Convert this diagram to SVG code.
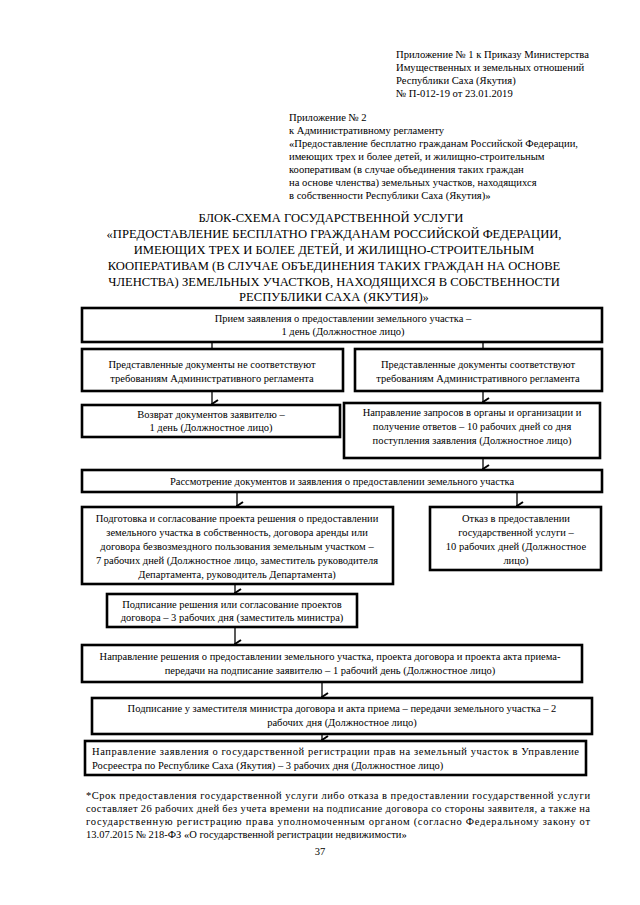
<svg xmlns="http://www.w3.org/2000/svg" width="640" height="905" viewBox="0 0 640 905">
<defs>
<style>
text{font-family:"Liberation Serif","Times New Roman",serif;fill:#000}
.hd{font-size:10.6px}
.ap{font-size:10.6px}
.tt{font-size:12.6px;text-anchor:middle}
.bx{font-size:10.5px;text-anchor:middle}
.bl{font-size:10.5px;text-anchor:start}
.fn{font-size:10.5px}
.pg{font-size:10.5px;text-anchor:middle}
rect.b{fill:#fff;stroke:#000;stroke-width:2.6}
.c line{stroke:#000;stroke-width:1.3}
</style>
<marker id="ah" viewBox="0 0 10 10" refX="5" refY="9" markerWidth="10" markerHeight="10" markerUnits="userSpaceOnUse" orient="auto-start-reverse">
<path d="M1,3 L5,9 L9,3" fill="none" stroke="#000" stroke-width="2"/>
</marker>
</defs>
<rect width="640" height="905" fill="#fff"/>

<g id="header">
<text class="hd" x="396" y="58">Приложение № 1 к Приказу Министерства</text>
<text class="hd" x="396" y="71">Имущественных и земельных отношений</text>
<text class="hd" x="396" y="84">Республики Саха (Якутия)</text>
<text class="hd" x="396" y="97">№ П-012-19  от 23.01.2019</text>
</g>

<g id="appendix">
<text class="ap" x="289" y="121">Приложение № 2</text>
<text class="ap" x="289" y="134">к Административному регламенту</text>
<text class="ap" x="289" y="147">«Предоставление бесплатно гражданам Российской Федерации,</text>
<text class="ap" x="289" y="160">имеющих трех и более детей, и жилищно-строительным</text>
<text class="ap" x="289" y="173">кооперативам (в случае объединения таких граждан</text>
<text class="ap" x="289" y="186">на основе членства) земельных участков, находящихся</text>
<text class="ap" x="289" y="199"> в собственности Республики Саха (Якутия)»</text>
</g>

<g id="title">
<text class="tt" x="331" y="222">БЛОК-СХЕМА ГОСУДАРСТВЕННОЙ УСЛУГИ</text>
<text class="tt" x="334" y="238">«ПРЕДОСТАВЛЕНИЕ БЕСПЛАТНО ГРАЖДАНАМ РОССИЙСКОЙ ФЕДЕРАЦИИ,</text>
<text class="tt" x="334" y="254">ИМЕЮЩИХ ТРЕХ И БОЛЕЕ ДЕТЕЙ, И ЖИЛИЩНО-СТРОИТЕЛЬНЫМ</text>
<text class="tt" x="334" y="270">КООПЕРАТИВАМ (В СЛУЧАЕ ОБЪЕДИНЕНИЯ ТАКИХ ГРАЖДАН НА ОСНОВЕ</text>
<text class="tt" x="334" y="286">ЧЛЕНСТВА) ЗЕМЕЛЬНЫХ УЧАСТКОВ, НАХОДЯЩИХСЯ В СОБСТВЕННОСТИ</text>
<text class="tt" x="334" y="301">РЕСПУБЛИКИ САХА (ЯКУТИЯ)»</text>
</g>

<g class="c" id="connectors">
<line x1="212" y1="343" x2="212" y2="355" marker-end="url(#ah)"/>
<line x1="483" y1="343" x2="483" y2="355" marker-end="url(#ah)"/>
<line x1="212" y1="392" x2="212" y2="404" marker-end="url(#ah)"/>
<line x1="483" y1="392" x2="483" y2="402" marker-end="url(#ah)"/>
<line x1="483" y1="459" x2="483" y2="469" marker-end="url(#ah)"/>
<line x1="237" y1="493" x2="237" y2="506" marker-end="url(#ah)"/>
<line x1="517" y1="493" x2="517" y2="506" marker-end="url(#ah)"/>
<line x1="235" y1="585" x2="235" y2="593" marker-end="url(#ah)"/>
<line x1="235" y1="628" x2="235" y2="644" marker-end="url(#ah)"/>
<line x1="322" y1="683" x2="322" y2="697" marker-end="url(#ah)"/>
<line x1="322" y1="734" x2="322" y2="740" marker-end="url(#ah)"/>
</g>

<g id="n1">
<rect class="b" x="82" y="308" width="520" height="34"/>
<text class="bx" x="343" y="322">Прием заявления о предоставлении земельного участка –</text>
<text class="bx" x="343" y="335">1 день (Должностное лицо)</text>
</g>
<g id="n2a">
<rect class="b" x="82" y="349" width="261" height="42"/>
<text class="bx" x="212" y="368">Представленные документы не соответствуют</text>
<text class="bx" x="212" y="382">требованиям Административного регламента</text>
</g>
<g id="n2b">
<rect class="b" x="355" y="349" width="247" height="42"/>
<text class="bx" x="478" y="368">Представленные документы соответствуют</text>
<text class="bx" x="478" y="382">требованиям Административного регламента</text>
</g>
<g id="n3a">
<rect class="b" x="82" y="405" width="258" height="32"/>
<text class="bx" x="211" y="418">Возврат документов заявителю –</text>
<text class="bx" x="211" y="431">1 день (Должностное лицо)</text>
</g>
<g id="n3b">
<rect class="b" x="344" y="403" width="256" height="55"/>
<text class="bx" x="472" y="416">Направление запросов в органы и организации и</text>
<text class="bx" x="472" y="430">получение ответов  – 10 рабочих дней со дня</text>
<text class="bx" x="472" y="444">поступления заявления (Должностное лицо)</text>
</g>
<g id="n4">
<rect class="b" x="82" y="470" width="520" height="22"/>
<text class="bx" x="342" y="485">Рассмотрение документов и заявления о предоставлении земельного участка</text>
</g>
<g id="n5a">
<rect class="b" x="82" y="507" width="311" height="77"/>
<text class="bx" x="237" y="522">Подготовка и согласование проекта решения о предоставлении</text>
<text class="bx" x="237" y="536">земельного участка в собственность, договора аренды или</text>
<text class="bx" x="237" y="550">договора безвозмездного пользования земельным участком  –</text>
<text class="bx" x="237" y="564">7 рабочих дней (Должностное лицо, заместитель руководителя</text>
<text class="bx" x="237" y="578">Департамента, руководитель Департамента)</text>
</g>
<g id="n5b">
<rect class="b" x="430" y="507" width="171" height="63"/>
<text class="bx" x="516" y="522">Отказ в предоставлении</text>
<text class="bx" x="516" y="536">государственной услуги –</text>
<text class="bx" x="516" y="550">10 рабочих дней (Должностное</text>
<text class="bx" x="516" y="564">лицо)</text>
</g>
<g id="n6">
<rect class="b" x="107" y="594" width="250" height="33"/>
<text class="bx" x="232" y="608">Подписание решения или согласование проектов</text>
<text class="bx" x="232" y="621">договора  – 3 рабочих дня (заместитель министра)</text>
</g>
<g id="n7">
<rect class="b" x="82" y="645" width="500" height="37"/>
<text class="bx" x="330" y="660">Направление решения о предоставлении земельного участка, проекта договора и проекта акта приема-</text>
<text class="bx" x="330" y="674">передачи на подписание заявителю  – 1 рабочий день (Должностное лицо)</text>
</g>
<g id="n8">
<rect class="b" x="92" y="698" width="500" height="36"/>
<text class="bx" x="342" y="712">Подписание у заместителя министра договора и акта приема – передачи земельного участка  – 2</text>
<text class="bx" x="342" y="726">рабочих дня (Должностное лицо)</text>
</g>
<g id="n9">
<rect class="b" x="85" y="741" width="501" height="34"/>
<text class="bl" x="92" y="755" textLength="487" lengthAdjust="spacing">Направление заявления о государственной регистрации прав на земельный участок в Управление</text>
<text class="bl" x="92" y="769">Росреестра по Республике Саха (Якутия) – 3 рабочих дня (Должностное лицо)</text>
</g>

<g id="footnote">
<text class="fn" x="86" y="799" textLength="504" lengthAdjust="spacing">*Срок предоставления государственной услуги либо отказа в предоставлении государственной услуги</text>
<text class="fn" x="86" y="812" textLength="504" lengthAdjust="spacing">составляет 26 рабочих дней без учета времени на подписание договора со стороны заявителя, а также на</text>
<text class="fn" x="86" y="825" textLength="504" lengthAdjust="spacing">государственную регистрацию права уполномоченным органом (согласно Федеральному закону от</text>
<text class="fn" x="86" y="838">13.07.2015 № 218-ФЗ «О государственной регистрации недвижимости»</text>
<text class="pg" x="320" y="855">37</text>
</g>
</svg>
